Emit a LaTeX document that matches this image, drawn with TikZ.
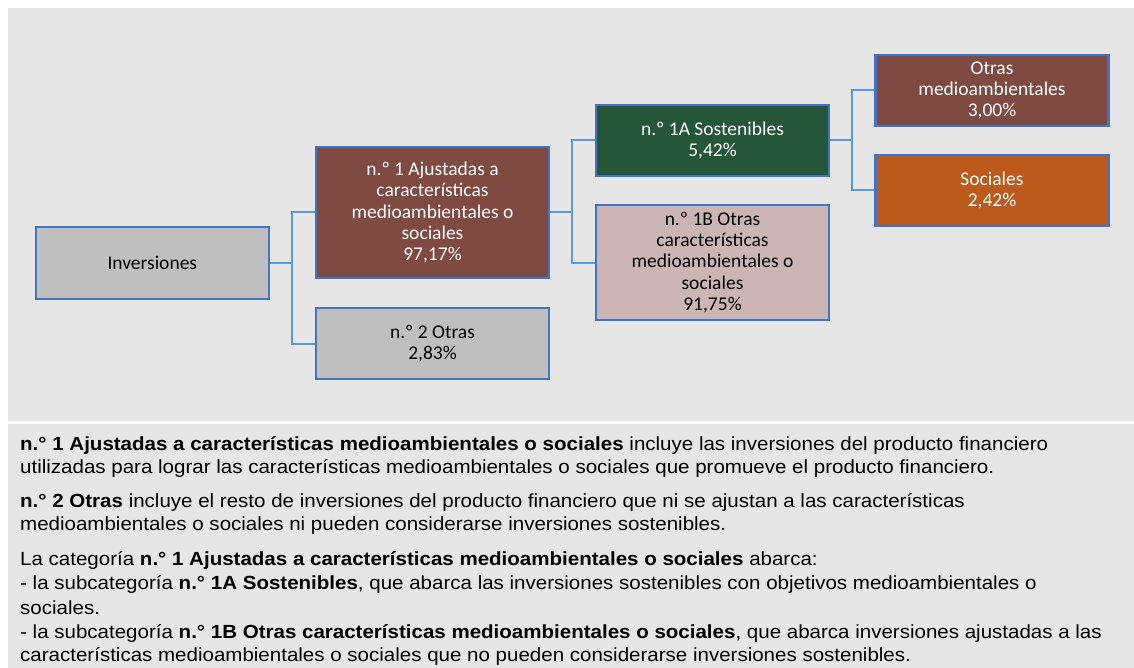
\documentclass[tikz,border=0pt]{standalone}
\usepackage{fontspec}
\usepackage{tikz}
\newfontfamily\boxfont{Carlito}
\newfontfamily\notefont[FakeStretch=1.08]{Liberation Sans}
\definecolor{panel}{HTML}{E7E6E6}
\definecolor{edge}{HTML}{4472C4}
\definecolor{link}{HTML}{5B9BD5}
\definecolor{greyfill}{HTML}{BFBFBF}
\definecolor{brownfill}{HTML}{7E4A41}
\definecolor{greenfill}{HTML}{25563A}
\definecolor{pinkfill}{HTML}{CBB6B3}
\definecolor{orangefill}{HTML}{BC5A1E}

\begin{document}
\begin{tikzpicture} [x = 1pt, y = -1pt,
  box/.style = {draw = edge, line width = 2.2pt, minimum width = 233pt, inner sep = 0pt, align = center, font = \boxfont\fontsize{19.5}{21.3}\selectfont},
  conn/.style = {draw = link, line width = 2pt},
  note/.style = {anchor = base west, inner sep = 0pt, font = \notefont\fontsize{19}{23.5}\selectfont}]
\useasboundingbox (0,0) rectangle (1134,668);
\fill[white] (0,0) rectangle (1134,668);
\fill[panel] (8,8) rectangle (1134,421);
\fill[panel] (8,424) rectangle (1134,668);
\coordinate (j1) at (292,263);
\coordinate (j2) at (572,212.5);
\coordinate (j3) at (852,140.5);
\node[box, fill = greyfill, minimum height = 72pt] (inv) at (152.3,263) {Inversiones};
\node[box, fill = brownfill, text = white, minimum height = 131pt] (n1) at (432.5,212.5) {n.º 1 Ajustadas a\\características\\medioambientales o\\sociales\\97,17\%};
\node[box, fill = greyfill, minimum height = 71pt] (n2) at (432.5,343.5) {n.º 2 Otras\\2,83\%};
\node[box, fill = greenfill, text = white, minimum height = 71pt] (sA) at (712.5,140.5) {n.º 1A Sostenibles\\5,42\%};
\node[box, fill = pinkfill, minimum height = 115pt] (sB) at (712.5,262.5) {n.º 1B Otras\\características\\medioambientales o\\sociales\\91,75\%};
\node[box, fill = brownfill, text = white, minimum height = 71pt] (om) at (992,90.5) {Otras\\medioambientales\\3,00\%};
\node[box, fill = orangefill, text = white, minimum height = 71pt] (soc) at (992,190.5) {Sociales\\2,42\%};
\draw[conn] (inv.east) -- (j1);
\draw[conn] (j1) |- (n1.west);
\draw[conn] (j1) |- (n2.west);
\draw[conn] (n1.east) -- (j2);
\draw[conn] (j2) |- (sA.west);
\draw[conn] (j2) |- (sB.west);
\draw[conn] (sA.east) -- (j3);
\draw[conn] (j3) |- (om.west);
\draw[conn] (j3) |- (soc.west);
\node[note] (p1a) at (20,450) {\textbf{n.° 1 Ajustadas a características medioambientales o sociales} incluye las inversiones del producto financiero};
\node[note] (p1b) at (20,473.3) {utilizadas para lograr las características medioambientales o sociales que promueve el producto financiero.};
\node[note] (p2a) at (20,507.3) {\textbf{n.° 2 Otras} incluye el resto de inversiones del producto financiero que ni se ajustan a las características};
\node[note] (p2b) at (20,530.7) {medioambientales o sociales ni pueden considerarse inversiones sostenibles.};
\node[note] (p3a) at (20,565.7) {La categoría \textbf{n.° 1 Ajustadas a características medioambientales o sociales} abarca:};
\node[note] (p3b) at (20,589.7) {- la subcategoría \textbf{n.° 1A Sostenibles}, que abarca las inversiones sostenibles con objetivos medioambientales o};
\node[note] (p3c) at (20,614.7) {sociales.};
\node[note] (p3d) at (20,638) {- la subcategoría \textbf{n.° 1B Otras características medioambientales o sociales}, que abarca inversiones ajustadas a las};
\node[note] (p3e) at (20,661.3) {características medioambientales o sociales que no pueden considerarse inversiones sostenibles.};
\end{tikzpicture}
\end{document}
